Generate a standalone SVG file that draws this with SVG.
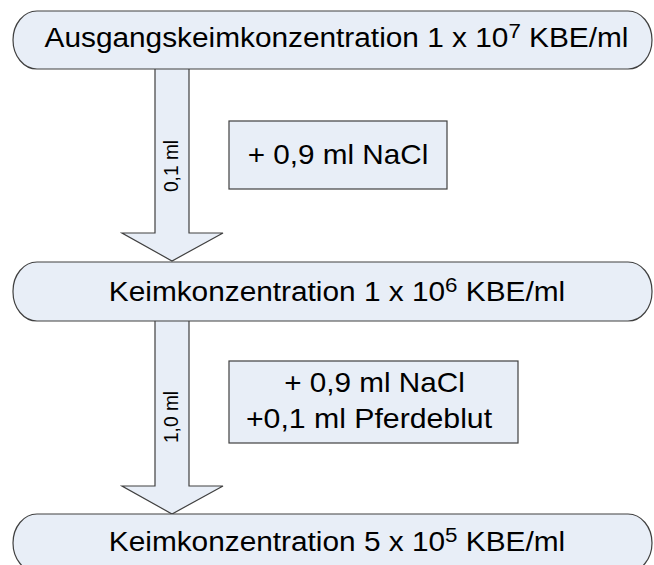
<svg xmlns="http://www.w3.org/2000/svg" width="654" height="565" viewBox="0 0 654 565">
<style>
.shape{fill:#E8EEF7;stroke:#404040;stroke-width:1.2}
.t{font-family:"Liberation Sans",Arial,sans-serif;fill:#000;text-anchor:middle}
.big{font-size:28px}
.sm{font-size:20px}
</style>
<rect width="654" height="565" fill="#fff"/>
<g id="connectors">
<path class="shape" d="M155,69 V233 H122 L172,261 L223,233 H189 V69"/>
<path class="shape" d="M155,321 V486 H122 L172,514 L223,486 H189 V321"/>
<text class="t sm" transform="translate(178,166) rotate(-90) scale(0.96,1)">0,1 ml</text>
<text class="t sm" transform="translate(178,417) rotate(-90) scale(0.96,1)">1,0 ml</text>
</g>
<g id="start">
<rect class="shape" x="13" y="11" width="639" height="58" rx="24" ry="29"/>
<text class="t big" transform="translate(336.5,47) scale(1.065,1)">Ausgangskeimkonzentration 1 x 10<tspan dy="-9" font-size="21">7</tspan><tspan dy="9"> KBE/ml</tspan></text>
</g>
<g id="step1">
<rect class="shape" x="229" y="121" width="218" height="68"/>
<text class="t big" transform="translate(338,164) scale(1.06,1)">+ 0,9 ml NaCl</text>
</g>
<g id="mid">
<rect class="shape" x="13" y="262" width="639" height="59" rx="24" ry="29"/>
<text class="t big" transform="translate(337,301) scale(1.065,1)">Keimkonzentration 1 x 10<tspan dy="-9" font-size="21">6</tspan><tspan dy="9"> KBE/ml</tspan></text>
</g>
<g id="step2">
<rect class="shape" x="229" y="361" width="289" height="82"/>
<text class="t big" transform="translate(374.5,392) scale(1.06,1)">+ 0,9 ml NaCl</text>
<text class="t big" transform="translate(369,428) scale(1.08,1)">+0,1 ml Pferdeblut</text>
</g>
<g id="end">
<rect class="shape" x="13" y="514" width="639" height="58" rx="24" ry="29"/>
<text class="t big" transform="translate(337,551) scale(1.065,1)">Keimkonzentration 5 x 10<tspan dy="-9" font-size="21">5</tspan><tspan dy="9"> KBE/ml</tspan></text>
</g>
</svg>
